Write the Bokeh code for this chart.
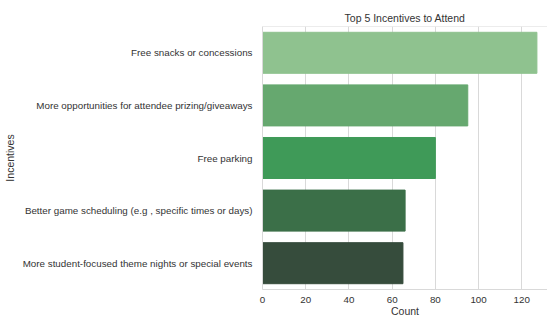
from bokeh.plotting import figure
from bokeh.models import FactorRange, Range1d, Span, FixedTicker
from bokeh.embed import file_html
from bokeh.resources import INLINE

incentives = [
    "Free snacks or concessions",
    "More opportunities for attendee prizing/giveaways",
    "Free parking",
    "Better game scheduling (e.g , specific times or days)",
    "More student-focused theme nights or special events",
]
counts = [127, 95, 80, 66, 65]
colors = ["#8fc28f", "#66a86f", "#3f9a58", "#3b6f48", "#364c3c"]
x_ticks = [0, 20, 40, 60, 80, 100, 120]

FONT = "Liberation Sans"
TXT = "#333333"
GRID = "#d9d9d9"

p = figure(
    width=547, height=320,
    y_range=FactorRange(factors=list(reversed(incentives)), range_padding=0),
    x_range=Range1d(0, 131.9),
    output_backend="svg", toolbar_location=None,
    min_border_left=262, min_border_right=0, min_border_top=26, min_border_bottom=31,
    title="Top 5 Incentives to Attend",
)

p.hbar(y=incentives, right=counts, left=0, height=0.78, fill_color=colors, line_color=colors)

p.outline_line_color = None
p.ygrid.grid_line_color = None
p.xgrid.grid_line_color = GRID
p.xgrid.ticker = FixedTicker(ticks=x_ticks)
p.xgrid.level = "underlay"

p.add_layout(Span(location=len(incentives), dimension="width", line_color=GRID, line_width=1))

p.title.text_font = FONT
p.title.text_font_size = "10.5px"
p.title.text_font_style = "normal"
p.title.text_color = TXT
p.title.align = "center"
p.title.standoff = 6
p.title.offset = 0

p.xaxis.ticker = FixedTicker(ticks=x_ticks)
p.xaxis.axis_label = "Count"
p.yaxis.axis_label = "Incentives"
for ax in (p.xaxis[0], p.yaxis[0]):
    ax.axis_line_color = GRID
    ax.major_tick_line_color = None
    ax.minor_tick_line_color = None
    ax.major_label_text_font = FONT
    ax.major_label_text_font_size = "9.8px"
    ax.major_label_text_color = TXT
    ax.axis_label_text_font = FONT
    ax.axis_label_text_font_size = "10.5px"
    ax.axis_label_text_font_style = "normal"
    ax.axis_label_text_color = TXT
p.xaxis.major_label_standoff = 1
p.xaxis.axis_label_standoff = -1
p.yaxis.major_label_standoff = 4
p.yaxis.axis_label_standoff = 4

open("out.html", "w").write(file_html(p, INLINE))
